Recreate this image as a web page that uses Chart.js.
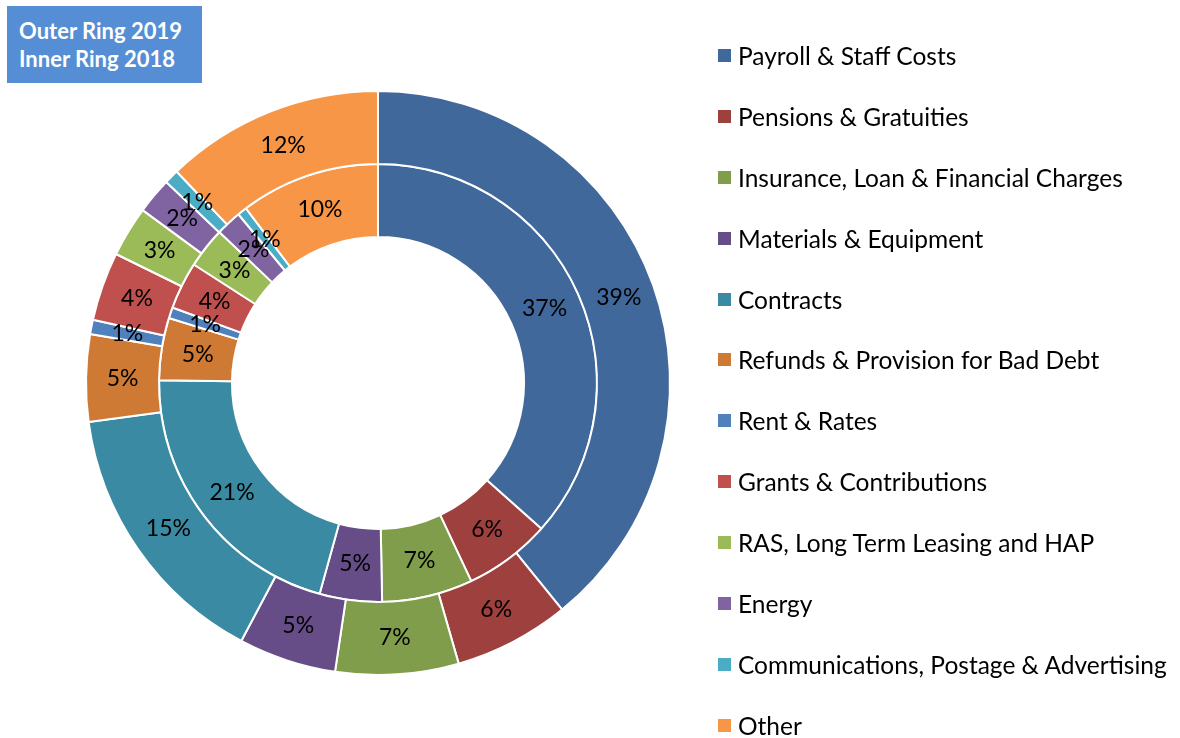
<!DOCTYPE html>
<html>
<head>
<meta charset="utf-8">
<script src="https://cdn.jsdelivr.net/npm/chart.js@4"></script>
<style>
  html, body { margin: 0; padding: 0; background: #fff; }
  #wrap { position: relative; width: 1180px; height: 738px; overflow: hidden; }
  #chart { position: absolute; left: 0; top: 0; }
  #ringNote {
    position: absolute; left: 7px; top: 6px; width: 195px; height: 77px;
    background: #558ed5; color: #fff; font: bold 22px Lato, sans-serif;
    box-sizing: border-box; padding: 11px 0 0 12px; line-height: 28px;
  }
  #legend { position: absolute; left: 718px; top: 25px; font: 24.5px Lato, sans-serif; color: #000; }
  .item { height: 60.9px; display: flex; align-items: center; white-space: nowrap; }
  .box { width: 13px; height: 13px; margin-right: 7px; flex: none; }
</style>
</head>
<body>
<div id="wrap">
  <canvas id="chart" width="1180" height="738"></canvas>
  <div id="ringNote">Outer Ring 2019<br>Inner Ring 2018</div>
  <div id="legend"></div>
</div>
<script>
const categories = [
  'Payroll & Staff Costs',
  'Pensions & Gratuities',
  'Insurance, Loan & Financial Charges',
  'Materials & Equipment',
  'Contracts',
  'Refunds & Provision for Bad Debt',
  'Rent & Rates',
  'Grants & Contributions',
  'RAS, Long Term Leasing and HAP',
  'Energy',
  'Communications, Postage & Advertising',
  'Other'
];
// percent shares
const share2019 = [39.1, 6.4, 6.8, 5.4, 15.1, 4.8, 0.8, 3.8, 2.8, 2.0, 0.8, 12.1];
const share2018 = [36.6, 6.4, 6.7, 4.6, 20.9, 4.6, 0.8, 3.5, 3.0, 1.9, 0.7, 10.3];
const colors = [
  '#41689b', '#9e413e', '#7f9d4a', '#664d87', '#3a8aa3', '#cf7a34',
  '#4f81bd', '#c0504d', '#9bbb59', '#8064a2', '#4bacc6', '#f79646'
];

// draw the % value in the middle of every slice
const sliceLabels = {
  id: 'sliceLabels',
  afterDatasetsDraw(chart) {
    const ctx = chart.ctx;
    ctx.save();
    ctx.font = '23px Lato';
    ctx.fillStyle = '#000';
    ctx.textAlign = 'center';
    ctx.textBaseline = 'middle';
    chart.data.datasets.forEach((ds, i) => {
      chart.getDatasetMeta(i).data.forEach((arc, j) => {
        const p = arc.tooltipPosition();
        ctx.fillText(Math.round(ds.data[j]) + '%', p.x, p.y);
      });
    });
    ctx.restore();
  }
};

new Chart(document.getElementById('chart'), {
  type: 'doughnut',
  data: {
    labels: categories,
    datasets: [
      { label: '2019', data: share2019, backgroundColor: colors, borderColor: '#fff', borderWidth: 2 },
      { label: '2018', data: share2018, backgroundColor: colors, borderColor: '#fff', borderWidth: 2 }
    ]
  },
  options: {
    responsive: false,
    animation: false,
    cutout: '50%',
    layout: { padding: { left: 85, right: 509, top: 90, bottom: 62 } },
    plugins: {
      legend: { display: false },
      tooltip: { enabled: false }
    }
  },
  plugins: [sliceLabels]
});

// legend
const legend = document.getElementById('legend');
categories.forEach((name, i) => {
  const row = document.createElement('div');
  row.className = 'item';
  row.innerHTML = '<span class="box" style="background:' + colors[i] + '"></span><span></span>';
  row.lastChild.textContent = name;
  legend.appendChild(row);
});
</script>
</body>
</html>
